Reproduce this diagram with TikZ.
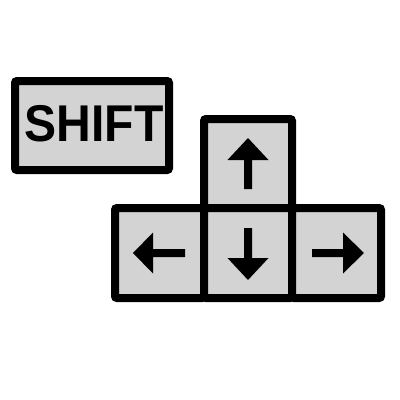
\documentclass[tikz,border=0pt]{standalone}
\usepackage{fontspec}
\setmainfont{Liberation Sans}
\definecolor{keygray}{HTML}{D3D3D3}
\begin{document}
\begin{tikzpicture}[x=1pt,y=-1pt,
  key/.style={draw=black,fill=keygray,line width=8pt,rounded corners=2pt,inner sep=0pt,outer sep=0pt,rectangle},
  glyph/.style={fill=black,draw=none}]
\useasboundingbox (0,0) rectangle (400,400);
\fill[white] (0,0) rectangle (400,400);
% SHIFT key
\node[key,minimum width=154pt,minimum height=89pt] (shift) at (92,125.5) {};
\node[inner sep=0pt,xscale=0.93] (shifttext) at (94.2,123.4) {\fontsize{51.7}{60}\selectfont\bfseries SHIFT};
% arrow keys
\node[key,minimum width=88pt,minimum height=89pt] (up) at (248,163.5) {};
\node[key,minimum width=89pt,minimum height=90pt] (left) at (159.5,253) {};
\node[key,minimum width=88pt,minimum height=90pt] (down) at (248,253) {};
\node[key,minimum width=89pt,minimum height=90pt] (right) at (336.5,253) {};
% up arrow
\fill[glyph] (248,138) -- (268.5,160) -- (252,160) -- (252,189) -- (244,189) -- (244,160) -- (227.5,160) -- cycle;
% down arrow
\fill[glyph] (248,280) -- (268.5,258) -- (252,258) -- (252,228) -- (244,228) -- (244,258) -- (227.5,258) -- cycle;
% left arrow
\fill[glyph] (133,253) -- (153,232.5) -- (153,249) -- (185,249) -- (185,257) -- (153,257) -- (153,273.5) -- cycle;
% right arrow
\fill[glyph] (364,253) -- (343,232.5) -- (343,249) -- (312,249) -- (312,257) -- (343,257) -- (343,273.5) -- cycle;
\end{tikzpicture}
\end{document}
